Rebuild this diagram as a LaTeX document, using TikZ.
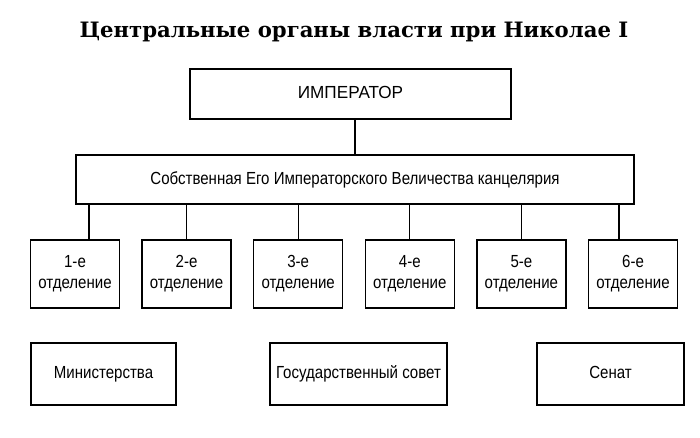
\documentclass[tikz,border=0pt]{standalone}
\usepackage{fontspec}
\setsansfont{Liberation Sans}[FakeStretch=0.86]
\newfontfamily\capsfont{Liberation Sans}[FakeStretch=0.98]
\newfontfamily\titlefont{DejaVu Serif}
\usetikzlibrary{positioning}

\tikzstyle{link} = [line width=1.3pt]
\tikzstyle{organ} = [
        rectangle,
        minimum height=50pt,
        text centered,
        text height=12.5pt,
        text depth=3.5pt,
        draw=black,
        line width=1.3pt,
        font=\sffamily\fontsize{17.5}{21}\selectfont
    ]
\tikzstyle{otdel} = [
        organ,
        minimum width=89pt,
        minimum height=68pt,
        text width=84pt,
        text height=,
        text depth=,
        inner sep=2pt
    ]
\tikzstyle{vedomstvo} = [
        organ,
        minimum height=62pt,
        inner sep=1pt
    ]

\begin{document}
\begin{tikzpicture}[x=1pt,y=-1pt,node distance=111.6pt]

        \useasboundingbox (0,0) rectangle (700,437);

        \node [font=\titlefont\bfseries\fontsize{21.2}{25}\selectfont] (title) at (354,32) {Центральные органы власти при Николае I};

        \node [organ, minimum width=321pt, font=\capsfont\fontsize{17.5}{21}\selectfont] (emp) at (350.5,94) {ИМПЕРАТОР};
        \node [organ, minimum width=558pt, minimum height=49pt, below of=emp, xshift=4.5pt, yshift=26pt] (chanc) {Собственная Его Императорского Величества канцелярия};

        \node [otdel, below of=chanc, xshift=-280pt, yshift=17.1pt] (d1) {1-е\\отделение};
        \node [otdel, right of=d1] (d2) {2-е\\отделение};
        \node [otdel, right of=d2] (d3) {3-е\\отделение};
        \node [otdel, right of=d3] (d4) {4-е\\отделение};
        \node [otdel, right of=d4] (d5) {5-е\\отделение};
        \node [otdel, right of=d5] (d6) {6-е\\отделение};

        \node [vedomstvo, minimum width=145pt, below of=d1, xshift=28.5pt, yshift=11.6pt] (min) {Министерства};
        \node [vedomstvo, minimum width=177pt, below of=d3, xshift=60.3pt, yshift=11.6pt] (sovet) {Государственный совет};
        \node [vedomstvo, minimum width=147pt, below of=d6, xshift=-22.5pt, yshift=11.6pt] (senat) {Сенат};

        \draw [link] (emp.south -| chanc.north) -- (chanc.north);
        \draw [link] ([xshift=14pt]d1.north) -- ([xshift=14pt]d1.north |- chanc.south);
        \draw [link] (d2.north) -- (d2.north |- chanc.south);
        \draw [link] (d3.north) -- (d3.north |- chanc.south);
        \draw [link] (d4.north) -- (d4.north |- chanc.south);
        \draw [link] (d5.north) -- (d5.north |- chanc.south);
        \draw [link] ([xshift=-14pt]d6.north) -- ([xshift=-14pt]d6.north |- chanc.south);

\end{tikzpicture}
\end{document}
